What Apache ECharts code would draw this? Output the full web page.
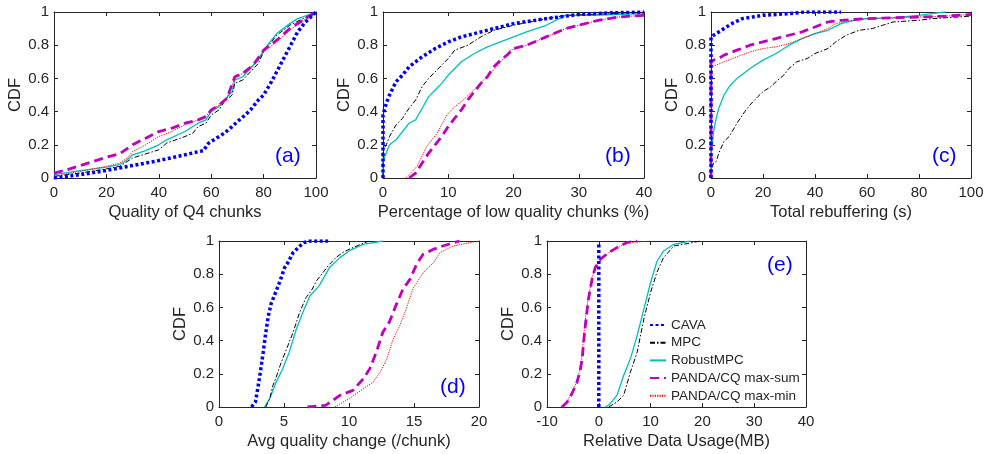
<!DOCTYPE html>
<html>
<head>
<meta charset="utf-8">
<script src="https://cdn.jsdelivr.net/npm/echarts@6/dist/echarts.min.js"></script>
<style>html,body{margin:0;padding:0;background:#fff;}#c{width:986px;height:454px;}</style>
</head>
<body>
<div id="c"></div>
<script>
// ---------- data ----------
const seriesNames = ['CAVA', 'MPC', 'RobustMPC', 'PANDA/CQ max-sum', 'PANDA/CQ max-min'];
const panelLetters = ['(a)', '(b)', '(c)', '(d)', '(e)'];
const xAxisNames = ['Quality of Q4 chunks', 'Percentage of low quality chunks (%)', 'Total rebuffering (s)', 'Avg quality change (/chunk)', 'Relative Data Usage(MB)'];
const xRanges = [[0, 100, 20], [0, 40, 10], [0, 100, 20], [0, 20, 5], [-10, 40, 10]];

// (a) Quality of Q4 chunks  [x, CDF]
const aCAVA = [[0,0],[5,0.01],[10,0.02],[20,0.045],[30,0.075],[40,0.105],[50,0.14],[57,0.165],[59,0.21],[62,0.24],[65,0.27],[68,0.31],[70,0.34],[73,0.38],[75,0.41],[78,0.47],[80,0.5],[83,0.58],[85,0.64],[88,0.73],[90,0.79],[93,0.88],[96,0.94],[100,1]];
const aMPC = [[0,0.01],[10,0.03],[20,0.055],[25,0.07],[28,0.1],[30,0.12],[35,0.145],[40,0.17],[43,0.21],[50,0.25],[53,0.27],[55,0.31],[58,0.33],[60,0.38],[63,0.41],[65,0.46],[68,0.5],[69,0.57],[72,0.59],[75,0.64],[78,0.69],[80,0.76],[83,0.82],[85,0.86],[90,0.92],[95,0.96],[100,1]];
const aRobust = [[0,0.02],[10,0.045],[20,0.065],[25,0.08],[28,0.11],[30,0.14],[35,0.165],[40,0.2],[43,0.23],[50,0.28],[53,0.31],[55,0.33],[58,0.35],[60,0.4],[63,0.43],[65,0.47],[68,0.52],[69,0.59],[72,0.61],[75,0.66],[78,0.71],[80,0.77],[83,0.83],[85,0.87],[90,0.93],[93,0.96],[95,0.97],[100,1]];
const aMaxSum = [[0,0.03],[5,0.05],[10,0.075],[15,0.1],[20,0.125],[25,0.145],[30,0.2],[35,0.24],[40,0.28],[45,0.3],[50,0.33],[55,0.35],[58,0.37],[60,0.41],[63,0.44],[66,0.48],[69,0.61],[72,0.63],[76,0.68],[80,0.77],[85,0.83],[90,0.9],[95,0.95],[100,1]];
const aMaxMin = [[0,0.01],[10,0.04],[20,0.07],[25,0.09],[28,0.12],[30,0.16],[35,0.2],[40,0.25],[45,0.28],[50,0.32],[55,0.35],[58,0.37],[60,0.41],[63,0.44],[66,0.48],[69,0.6],[72,0.63],[76,0.68],[80,0.76],[85,0.82],[90,0.89],[95,0.95],[100,1]];

// (b) Percentage of low quality chunks
const bCAVA = [[0,0],[0,0.38],[0.5,0.45],[1,0.5],[2,0.58],[3,0.62],[4,0.67],[5,0.7],[6,0.73],[8,0.78],[10,0.82],[12,0.85],[15,0.88],[18,0.91],[20,0.93],[25,0.96],[30,0.985],[35,0.995],[40,1]];
const bMPC = [[0,0],[0,0.17],[0.5,0.2],[1,0.25],[2,0.32],[3,0.36],[4,0.42],[5,0.47],[6,0.55],[7,0.6],[8,0.64],[9,0.68],[10,0.72],[11,0.77],[13,0.8],[15,0.85],[17,0.89],[20,0.92],[25,0.96],[28,0.98],[35,0.99],[40,1]];
const bRobust = [[0,0],[0,0.1],[0.5,0.15],[1,0.2],[2,0.23],[3,0.28],[4,0.33],[5,0.35],[6,0.42],[7,0.49],[8,0.53],[9,0.57],[10,0.62],[11,0.66],[12,0.7],[14,0.75],[16,0.79],[18,0.82],[20,0.85],[22,0.88],[25,0.92],[27,0.96],[28,0.98],[32,0.98],[40,0.99]];
const bMaxSum = [[4,0],[5,0.03],[6,0.09],[7,0.15],[8,0.2],[9,0.25],[10,0.31],[11,0.36],[12,0.41],[13,0.47],[14,0.52],[15,0.57],[16,0.61],[17,0.67],[18,0.71],[19,0.74],[20,0.78],[22,0.8],[25,0.85],[28,0.9],[30,0.92],[33,0.95],[36,0.97],[40,0.98]];
const bMaxMin = [[3.5,0],[5.2,0.07],[6.7,0.19],[8.3,0.27],[9.8,0.38],[11,0.43],[12.3,0.47],[13.9,0.53],[15.9,0.61],[17.4,0.67],[19.5,0.77],[22,0.8],[25,0.85],[28,0.9],[30,0.92],[33,0.95],[36,0.97],[40,0.98]];

// (c) Total rebuffering
const cCAVA = [[0,0],[0,0.85],[1,0.86],[3,0.88],[5,0.9],[8,0.93],[12,0.96],[16,0.97],[20,0.98],[30,0.99],[36,1],[50,1]];
const cMPC = [[0,0],[0.5,0.07],[1,0.09],[2,0.1],[3,0.15],[5,0.22],[7,0.25],[10,0.33],[13,0.4],[15,0.44],[18,0.49],[20,0.52],[23,0.55],[25,0.58],[28,0.62],[30,0.66],[33,0.7],[37,0.72],[40,0.75],[45,0.78],[48,0.82],[52,0.86],[57,0.89],[62,0.9],[66,0.92],[70,0.94],[75,0.945],[80,0.95],[85,0.96],[90,0.965],[100,0.975]];
const cRobust = [[0,0],[0,0.15],[0.5,0.2],[1,0.28],[2,0.36],[3,0.42],[5,0.5],[7,0.55],[10,0.6],[15,0.66],[20,0.71],[25,0.75],[30,0.8],[35,0.84],[40,0.87],[45,0.89],[50,0.93],[55,0.95],[60,0.96],[70,0.965],[80,0.98],[85,0.99],[90,1]];
const cMaxSum = [[0,0],[0,0.7],[1,0.71],[3,0.72],[5,0.74],[10,0.77],[15,0.8],[20,0.82],[25,0.84],[30,0.86],[35,0.88],[40,0.91],[45,0.94],[50,0.95],[60,0.96],[70,0.965],[80,0.97],[90,0.975],[100,0.985]];
const cMaxMin = [[0,0],[0,0.67],[2,0.68],[5,0.7],[10,0.73],[15,0.76],[20,0.78],[25,0.79],[30,0.81],[35,0.84],[40,0.87],[45,0.9],[48,0.93],[52,0.945],[60,0.96],[70,0.965],[80,0.97],[90,0.975],[100,0.985]];

// (d) Avg quality change
const dCAVA = [[2.5,0],[2.8,0.03],[3,0.12],[3.2,0.22],[3.4,0.33],[3.6,0.45],[3.8,0.55],[4,0.62],[4.4,0.7],[4.7,0.76],[5.05,0.84],[5.3,0.87],[5.7,0.93],[6.1,0.96],[6.5,0.99],[7,1],[8.5,1]];
const dMPC = [[3.6,0],[3.9,0.05],[4.15,0.13],[4.4,0.18],[4.7,0.25],[5.2,0.35],[5.7,0.45],[6.2,0.57],[6.7,0.66],[7.1,0.7],[7.5,0.76],[8,0.81],[8.5,0.86],[9,0.9],[9.5,0.93],[10,0.95],[10.6,0.97],[11.2,0.99],[11.6,1]];
const dRobust = [[3.5,0],[3.9,0.05],[4.4,0.15],[4.9,0.23],[5.4,0.33],[5.95,0.47],[6.5,0.58],[7,0.67],[7.7,0.73],[8.5,0.84],[9.3,0.9],[10,0.94],[11.1,0.98],[12.6,1]];
const dMaxSum = [[6.8,0],[8.2,0.01],[9.3,0.07],[10.3,0.1],[11.1,0.17],[11.6,0.23],[12.1,0.33],[12.6,0.45],[13.1,0.51],[13.6,0.61],[14.15,0.71],[14.7,0.77],[15.2,0.86],[15.7,0.92],[16.5,0.95],[17.2,0.97],[18.5,1]];
const dMaxMin = [[8.9,0],[10,0.05],[11.1,0.11],[11.85,0.15],[12.4,0.21],[12.9,0.29],[13.4,0.41],[13.9,0.49],[14.4,0.59],[14.9,0.71],[15.7,0.81],[16.5,0.87],[17,0.93],[18,0.97],[19.3,0.99],[20,1]];

// (e) Relative data usage
const eCAVA = [[0,0],[0,1]];
const eMPC = [[1.9,0],[3.5,0.03],[4.8,0.07],[6.1,0.21],[7.4,0.33],[8.7,0.53],[10,0.69],[11.2,0.81],[12.5,0.9],[14.5,0.97],[16.4,0.98],[19.6,1]];
const eRobust = [[1.3,0],[2.2,0.02],[3.5,0.07],[4.8,0.19],[6.1,0.29],[7.4,0.43],[8.7,0.59],[10,0.75],[11.2,0.875],[12.5,0.94],[14.5,0.98],[17.7,1]];
const eMaxSum = [[-7.1,0],[-6.1,0.03],[-5.2,0.08],[-4.2,0.15],[-3.6,0.22],[-3.2,0.29],[-2.9,0.4],[-2.6,0.49],[-2.3,0.57],[-2,0.65],[-1.3,0.77],[-0.7,0.84],[0.3,0.89],[1.9,0.93],[3.5,0.96],[5.4,0.99],[7.4,1]];
const eMaxMin = [[-7.3,0],[-6.2,0.03],[-5.3,0.08],[-4.3,0.15],[-3.7,0.22],[-3.3,0.3],[-3,0.4],[-2.7,0.5],[-2.4,0.58],[-2,0.66],[-1.3,0.78],[-0.6,0.84],[0.3,0.88],[1.9,0.93],[3.5,0.96],[5.5,0.99],[10,1]];

const panelData = [
  [aCAVA, aMPC, aRobust, aMaxSum, aMaxMin],
  [bCAVA, bMPC, bRobust, bMaxSum, bMaxMin],
  [cCAVA, cMPC, cRobust, cMaxSum, cMaxMin],
  [dCAVA, dMPC, dRobust, dMaxSum, dMaxMin],
  [eCAVA, eMPC, eRobust, eMaxSum, eMaxMin]
];

// ---------- layout & style ----------
const FONT = 'Liberation Sans, Arial, Helvetica, sans-serif';
const AX = '#262626';
const grids = [
  {left: 54, top: 12, width: 262, height: 166},
  {left: 383, top: 12, width: 261, height: 166},
  {left: 711, top: 12, width: 260, height: 166},
  {left: 219, top: 241, width: 260, height: 166},
  {left: 547, top: 241, width: 259, height: 166}
];
const letterPos = [[275, 146], [605, 146], [932, 146], [440, 377], [767, 255]];
const lineStyles = [
  {color: '#0000FF', width: 3.5, type: [3, 2.5]},
  {color: '#000000', width: 1, type: [5, 2, 1.5, 2]},
  {color: '#00BFBF', width: 1.3, type: 'solid'},
  {color: '#BF00BF', width: 2.8, type: [9, 5]},
  {color: '#FF0000', width: 1, type: [1.2, 1.2]}
];
const drawOrder = [2, 1, 4, 3, 0];

const xAxes = [], yAxes = [], series = [], graphics = [];
grids.forEach((g, gi) => {
  const [xmin, xmax, xint] = xRanges[gi];
  const common = {
    gridIndex: gi, type: 'value',
    axisLine: {show: true, onZero: false, lineStyle: {color: AX, width: 1}},
    axisTick: {show: true, inside: true, length: 4, lineStyle: {color: AX}},
    splitLine: {show: false}
  };
  xAxes.push(Object.assign({}, common, {
    position: 'bottom', min: xmin, max: xmax, interval: xint,
    name: xAxisNames[gi], nameLocation: 'middle', nameGap: 26,
    nameTextStyle: {fontSize: 16.5, color: AX, fontFamily: FONT},
    axisLabel: {fontSize: 15, color: AX, margin: 7, fontFamily: FONT}
  }));
  xAxes.push(Object.assign({}, common, {
    position: 'top', min: xmin, max: xmax, interval: xint,
    axisLabel: {show: false}
  }));
  yAxes.push(Object.assign({}, common, {
    position: 'left', min: 0, max: 1, interval: 0.2,
    name: 'CDF', nameLocation: 'middle', nameGap: 30,
    nameTextStyle: {fontSize: 16.5, color: AX, fontFamily: FONT},
    axisLabel: {fontSize: 15, color: AX, margin: 5, fontFamily: FONT}
  }));
  yAxes.push(Object.assign({}, common, {
    position: 'right', min: 0, max: 1, interval: 0.2,
    axisLabel: {show: false}
  }));
  drawOrder.forEach((si, k) => {
    series.push({
      type: 'line', name: seriesNames[si],
      xAxisIndex: gi * 2, yAxisIndex: gi * 2,
      data: panelData[gi][si],
      symbol: 'none', showSymbol: false,
      lineStyle: lineStyles[si], itemStyle: {color: lineStyles[si].color},
      z: 2 + k, animation: false, silent: true
    });
  });
  graphics.push({
    type: 'text', left: letterPos[gi][0], top: letterPos[gi][1],
    style: {text: panelLetters[gi], fill: '#0000FF', font: '21px ' + FONT}
  });
});

const chart = echarts.init(document.getElementById('c'), null, {renderer: 'canvas'});
chart.setOption({
  backgroundColor: '#ffffff',
  animation: false,
  grid: grids.map(g => Object.assign({containLabel: false, outerBoundsMode: 'none'}, g)),
  xAxis: xAxes,
  yAxis: yAxes,
  series: series,
  legend: {
    data: seriesNames, orient: 'vertical', left: 649, top: 318, padding: 0,
    itemWidth: 16, itemHeight: 12, itemGap: 3.7,
    itemStyle: {opacity: 0, borderWidth: 0},
    textStyle: {fontSize: 13.5, color: AX, fontFamily: FONT, lineHeight: 14},
    selectedMode: false
  },
  graphic: graphics
});
</script>
</body>
</html>
